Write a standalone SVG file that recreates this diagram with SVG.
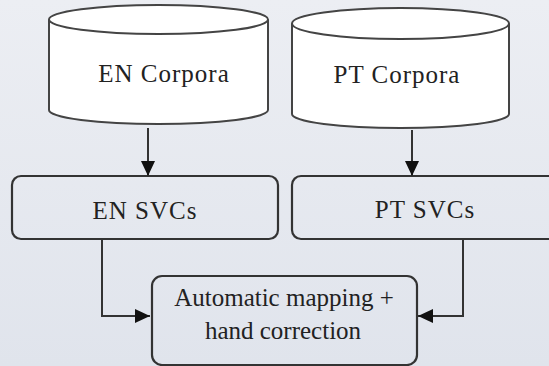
<svg xmlns="http://www.w3.org/2000/svg" width="549" height="366" viewBox="0 0 549 366">
  <defs>
    <linearGradient id="bg" x1="0" y1="0" x2="0" y2="1">
      <stop offset="0" stop-color="#eceef3"/>
      <stop offset="1" stop-color="#e0e4ec"/>
    </linearGradient>
    <marker id="arrow" markerWidth="15" markerHeight="14" refX="15" refY="7" orient="auto" markerUnits="userSpaceOnUse">
      <path d="M0,0 L15,7 L0,14 Z" fill="#111"/>
    </marker>
    <style>
      .cyl { fill: #ffffff; stroke: #444; stroke-width: 2; }
      .box { fill: none; stroke: #333; stroke-width: 2.2; }
      .edge { fill: none; stroke: #333; stroke-width: 2; }
      .lbl { font-family: serif; font-size: 25px; fill: #222; text-anchor: middle; }
    </style>
  </defs>

  <rect width="549" height="366" fill="url(#bg)"/>

  <!-- EN corpora store -->
  <g id="en-corpora">
    <path class="cyl" d="M49,19.5 L49,110 A109.5,14 0 0 0 268,110 L268,19.5"/>
    <ellipse class="cyl" cx="158.5" cy="19.5" rx="109.5" ry="14.5"/>
    <text class="lbl" x="164" y="82" letter-spacing="1">EN Corpora</text>
  </g>

  <!-- PT corpora store -->
  <g id="pt-corpora">
    <path class="cyl" d="M292,23.5 L292,114 A108.5,14 0 0 0 509,114 L509,23.5"/>
    <ellipse class="cyl" cx="400.5" cy="23.5" rx="108.5" ry="15.5"/>
    <text class="lbl" x="397" y="83" letter-spacing="1">PT Corpora</text>
  </g>

  <!-- extracted SVC lists -->
  <g id="en-svcs">
    <rect class="box" x="12" y="176" width="266" height="63" rx="9"/>
    <text class="lbl" x="145" y="219" letter-spacing="1">EN SVCs</text>
  </g>

  <g id="pt-svcs">
    <rect class="box" x="292" y="176" width="270" height="63" rx="9"/>
    <text class="lbl" x="425" y="218" letter-spacing="1">PT SVCs</text>
  </g>

  <!-- alignment step -->
  <g id="mapping">
    <rect class="box" x="152" y="276" width="265" height="89" rx="10"/>
    <text class="lbl" x="284" y="306">Automatic mapping +</text>
    <text class="lbl" x="283" y="339">hand correction</text>
  </g>

  <!-- connectors -->
  <g id="connectors">
    <path class="edge" d="M148,128 L148,176" marker-end="url(#arrow)"/>
    <path class="edge" d="M412,130 L412,176" marker-end="url(#arrow)"/>
    <path class="edge" d="M102,239 L102,316 L150,316" marker-end="url(#arrow)"/>
    <path class="edge" d="M463,239 L463,316 L418,316" marker-end="url(#arrow)"/>
  </g>
</svg>
